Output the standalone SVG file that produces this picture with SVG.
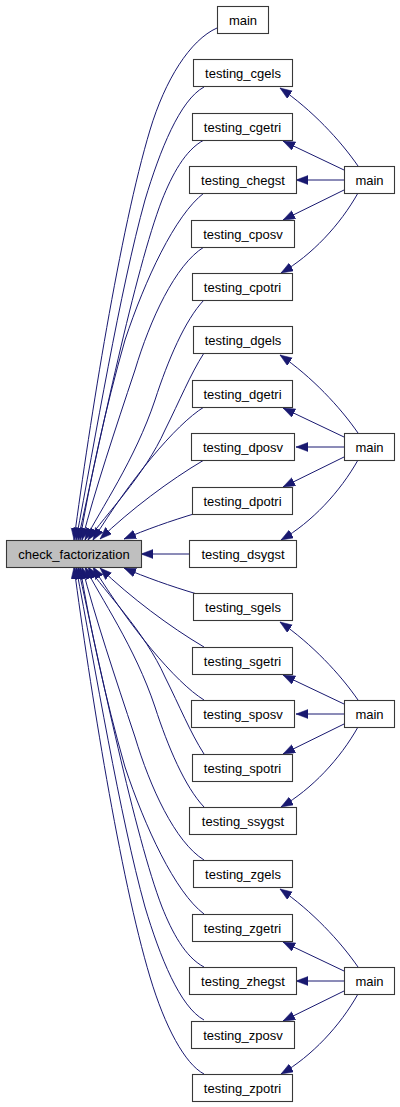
<svg xmlns="http://www.w3.org/2000/svg" width="400" height="1107" viewBox="0 0 400 1107">
<style>
.n rect{fill:#ffffff;stroke:#383838;stroke-width:1.1}
.n text{font-family:"Liberation Sans",Arial,sans-serif;font-size:13px;fill:#000;text-anchor:middle}
#cf rect{fill:#bfbfbf}
.e path{fill:none;stroke:#191970;stroke-width:1;marker-end:url(#ah)}
</style>
<defs>
<marker id="ah" markerUnits="userSpaceOnUse" markerWidth="13" markerHeight="10" refX="12" refY="4.5" orient="auto">
<path d="M0,0 L12,4.5 L0,9 z" fill="#191970" stroke="#191970" stroke-width="0.5"/>
</marker>
</defs>
<g id="edges" class="e">
<path d="M217,28 C190,40 165,80 150,130 C120,230 90,420 74,540"/>
<path d="M204,87 C180,100 160,150 145,200 C120,290 95,440 76,540"/>
<path d="M204,140 C185,150 172,175 162,200 C135,270 100,440 78,540"/>
<path d="M204,193 C175,215 145,280 125,340 C105,410 90,480 80,540"/>
<path d="M204,247 C175,265 150,320 135,370 C115,430 95,490 82,540"/>
<path d="M204,300 C185,320 168,360 155,400 C135,460 100,510 85,540"/>
<path d="M204,353 C190,375 180,400 165,430 C145,475 105,515 88,540"/>
<path d="M204,407 C175,425 130,480 93,540"/>
<path d="M204,460 C170,480 130,510 100,539"/>
<path d="M197,513 C170,521 145,530 124,539"/>
<path d="M189,554 L141,554"/>
<path d="M197,594 C170,586 145,577 124,568"/>
<path d="M204,647 C170,627 130,597 100,568"/>
<path d="M204,700 C175,682 130,627 93,567"/>
<path d="M204,754 C190,732 180,707 165,677 C145,632 105,592 88,567"/>
<path d="M204,807 C185,787 168,747 155,707 C135,647 100,597 85,567"/>
<path d="M204,860 C175,842 150,787 135,737 C115,677 95,617 82,567"/>
<path d="M204,914 C175,892 145,827 125,767 C105,697 90,627 80,567"/>
<path d="M204,967 C185,957 172,932 162,907 C135,837 100,667 78,567"/>
<path d="M204,1020 C180,1007 160,957 145,907 C120,817 95,667 76,567"/>
<path d="M204,1074 C185,1064 165,1027 150,977 C120,877 90,687 74,567"/>
<path d="M358,166 C340,140 312,110 280,88"/>
<path d="M344,170 L283,141"/>
<path d="M344,180 L296,180"/>
<path d="M344,190 L283,220"/>
<path d="M358,193 C340,225 312,255 281,273"/>
<path d="M358,433 C340,407 312,377 280,355"/>
<path d="M344,437 L283,408"/>
<path d="M344,447 L296,447"/>
<path d="M344,457 L283,487"/>
<path d="M358,460 C340,492 312,522 281,540"/>
<path d="M358,700 C340,674 312,644 280,622"/>
<path d="M344,704 L283,675"/>
<path d="M344,714 L296,714"/>
<path d="M344,724 L283,754"/>
<path d="M358,727 C340,759 312,789 281,807"/>
<path d="M358,967 C340,941 312,911 280,889"/>
<path d="M344,971 L283,942"/>
<path d="M344,981 L296,981"/>
<path d="M344,991 L283,1021"/>
<path d="M358,994 C340,1026 312,1056 281,1074"/>
</g>
<g id="cf" class="n"><rect x="6.5" y="540.5" width="135" height="27"/><text x="74" y="558.5">check_factorization</text></g>
<g id="main0" class="n"><rect x="217.5" y="6.5" width="51" height="27"/><text x="243" y="24.5">main</text></g>
<g id="cgels" class="n"><rect x="193.5" y="59.5" width="99" height="27"/><text x="243" y="77.5">testing_cgels</text></g>
<g id="cgetri" class="n"><rect x="192.5" y="113.5" width="100" height="27"/><text x="242.5" y="131.5">testing_cgetri</text></g>
<g id="chegst" class="n"><rect x="189.5" y="166.5" width="107" height="27"/><text x="243" y="184.5">testing_chegst</text></g>
<g id="cposv" class="n"><rect x="191.5" y="220.5" width="103" height="27"/><text x="243" y="238.5">testing_cposv</text></g>
<g id="cpotri" class="n"><rect x="192.5" y="273.5" width="100" height="27"/><text x="242.5" y="291.5">testing_cpotri</text></g>
<g id="mainc" class="n"><rect x="344.5" y="166.5" width="50" height="27"/><text x="369.5" y="184.5">main</text></g>
<g id="dgels" class="n"><rect x="193.5" y="326.5" width="99" height="27"/><text x="243" y="344.5">testing_dgels</text></g>
<g id="dgetri" class="n"><rect x="192.5" y="380.5" width="100" height="27"/><text x="242.5" y="398.5">testing_dgetri</text></g>
<g id="dposv" class="n"><rect x="191.5" y="433.5" width="103" height="27"/><text x="243" y="451.5">testing_dposv</text></g>
<g id="dpotri" class="n"><rect x="192.5" y="487.5" width="100" height="27"/><text x="242.5" y="505.5">testing_dpotri</text></g>
<g id="dsygst" class="n"><rect x="189.5" y="540.5" width="107" height="27"/><text x="243" y="558.5">testing_dsygst</text></g>
<g id="maind" class="n"><rect x="344.5" y="433.5" width="50" height="27"/><text x="369.5" y="451.5">main</text></g>
<g id="sgels" class="n"><rect x="193.5" y="593.5" width="99" height="27"/><text x="243" y="611.5">testing_sgels</text></g>
<g id="sgetri" class="n"><rect x="192.5" y="647.5" width="100" height="27"/><text x="242.5" y="665.5">testing_sgetri</text></g>
<g id="sposv" class="n"><rect x="191.5" y="700.5" width="103" height="27"/><text x="243" y="718.5">testing_sposv</text></g>
<g id="spotri" class="n"><rect x="192.5" y="754.5" width="100" height="27"/><text x="242.5" y="772.5">testing_spotri</text></g>
<g id="ssygst" class="n"><rect x="189.5" y="807.5" width="107" height="27"/><text x="243" y="825.5">testing_ssygst</text></g>
<g id="mains" class="n"><rect x="344.5" y="700.5" width="50" height="27"/><text x="369.5" y="718.5">main</text></g>
<g id="zgels" class="n"><rect x="193.5" y="860.5" width="99" height="27"/><text x="243" y="878.5">testing_zgels</text></g>
<g id="zgetri" class="n"><rect x="192.5" y="914.5" width="100" height="27"/><text x="242.5" y="932.5">testing_zgetri</text></g>
<g id="zhegst" class="n"><rect x="189.5" y="967.5" width="107" height="27"/><text x="243" y="985.5">testing_zhegst</text></g>
<g id="zposv" class="n"><rect x="191.5" y="1021.5" width="103" height="27"/><text x="243" y="1039.5">testing_zposv</text></g>
<g id="zpotri" class="n"><rect x="192.5" y="1074.5" width="100" height="27"/><text x="242.5" y="1092.5">testing_zpotri</text></g>
<g id="mainz" class="n"><rect x="344.5" y="967.5" width="50" height="27"/><text x="369.5" y="985.5">main</text></g>
</svg>
